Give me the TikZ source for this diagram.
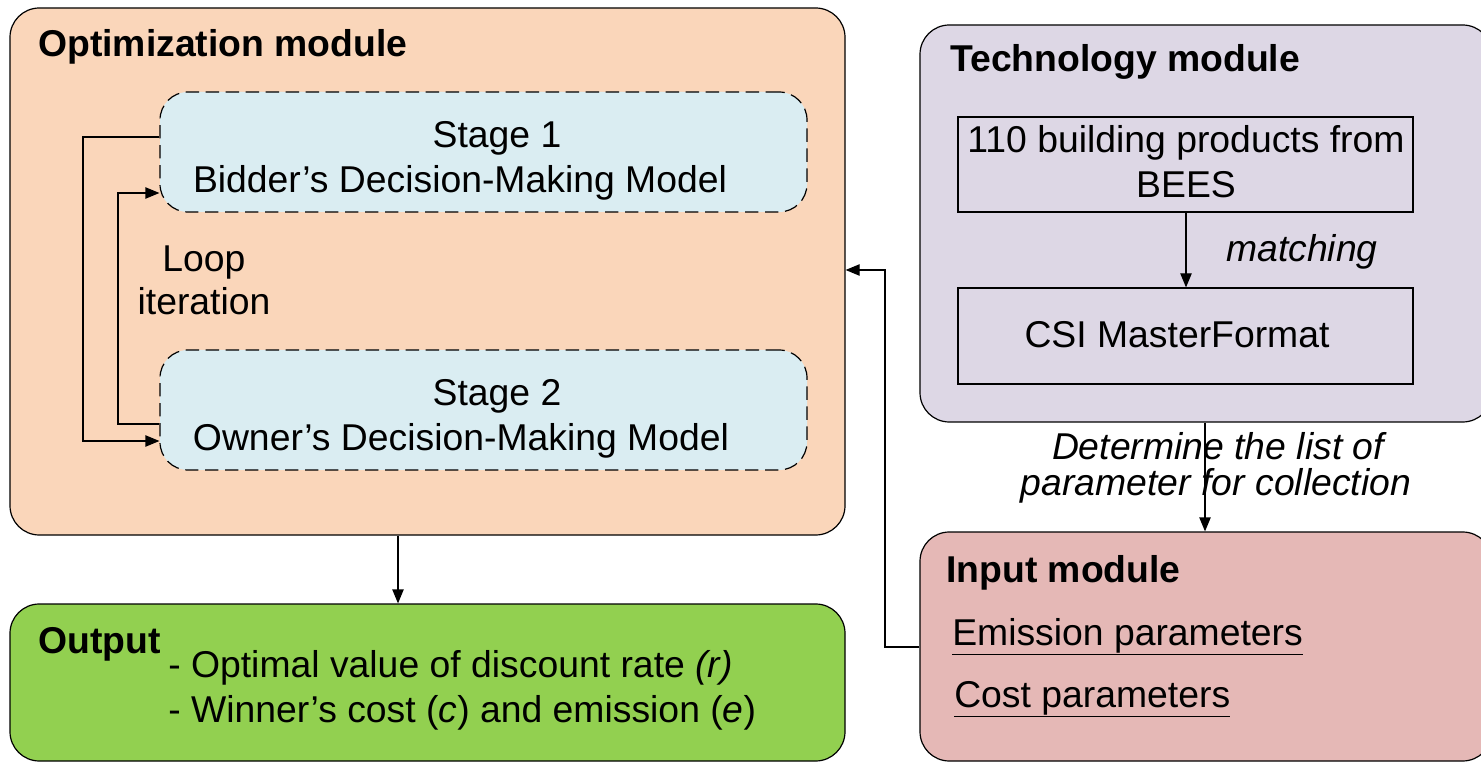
\documentclass[tikz,border=0pt]{standalone}
\usepackage{fontspec}
\setmainfont{Liberation Sans}
\usetikzlibrary{arrows.meta,fit}
\definecolor{optc}{HTML}{FAD6BA}
\definecolor{stagec}{HTML}{DAEDF2}
\definecolor{techc}{HTML}{DDD7E5}
\definecolor{inc}{HTML}{E5B8B6}
\definecolor{outc}{HTML}{92D050}
\begin{document}
\begin{tikzpicture}[x=0.75pt,y=-0.75pt,
  every node/.style={font=\fontsize{28}{34}\selectfont, inner sep=0pt},
  modbox/.style={draw=black, line width=0.9pt, rounded corners=22pt, inner sep=0pt},
  stagebox/.style={draw=black, line width=0.9pt, dash pattern=on 10pt off 5pt, rounded corners=21pt, fill=stagec, inner sep=0pt},
  plainbox/.style={draw=black, line width=0.9pt, inner sep=0pt},
  arr/.style={line width=0.9pt, -{Triangle[length=10.5pt,width=8.5pt]}},
  txt/.style={anchor=base},
  txtw/.style={anchor=base west},
  itx/.style={anchor=base, font=\fontsize{28}{34}\selectfont\itshape},
  ttl/.style={anchor=base west, font=\fontsize{28}{34}\selectfont\bfseries}]
\useasboundingbox (0,0) rectangle (1481,762);
\clip (0,0) rectangle (1481,762);

% modules
\node[modbox, fill=optc, fit={(10,8)(845,535)}] (opt) {};
\node[modbox, fill=techc, fit={(920,25)(1492,422)}] (tech) {};
\node[modbox, fill=inc, fit={(920,532)(1492,761)}] (inp) {};
\node[modbox, fill=outc, fit={(10,604)(845,761)}] (out) {};

% stages
\node[stagebox, fit={(160,92)(807,212)}] (s1) {};
\node[stagebox, fit={(160,350)(807,470)}] (s2) {};

% tech inner boxes
\node[plainbox, fit={(958,117)(1413,212)}] (bees) {};
\node[plainbox, fit={(958,288)(1413,384)}] (csi) {};

% titles
\node[ttl] (optt) at (38,57) {Optimization module};
\node[ttl] (techt) at (950,72) {Technology module};
\node[ttl] (inpt) at (946,582) {Input module};
\node[ttl] (outt) at (38,653) {Output};

% stage texts
\node[txt] (s1a) at (497,148) {Stage 1};
\node[txt] (s1b) at (460,193) {Bidder’s Decision-Making Model};
\node[txt] (s2a) at (497,406) {Stage 2};
\node[txt] (s2b) at (461,451) {Owner’s Decision-Making Model};
\node[txt] (loop1) at (204,272) {Loop};
\node[txt] (loop2) at (204,315) {iteration};

% tech texts
\node[txt] (bees1) at (1186,153) {110 building products from};
\node[txt] (bees2) at (1186,198) {BEES};
\node[txt] (csit) at (1177,348) {CSI MasterFormat};
\node[itx] (match) at (1302,262) {matching};
\node[itx] (det1) at (1218,460) {Determine the list of};
\node[itx] (det2) at (1216,495) {parameter for collection};

% input texts
\node[txtw] (em) at (952,645) {\underline{Emission parameters}};
\node[txtw] (co) at (954,707) {\underline{Cost parameters}};

% output texts
\node[txtw] (o1) at (168,677) {- Optimal value of discount rate \textit{(r)}};
\node[txtw] (o2) at (168,722) {- Winner’s cost (\textit{c}) and emission (\textit{e})};

% connectors
\draw[arr] (bees.south -| 1186,0) -- (csi.north -| 1186,0);
\draw[arr] (tech.south -| 1205,0) -- (inp.north -| 1205,0);
\draw[arr] (opt.south -| 398,0) -- (out.north -| 398,0);
\draw[arr] (inp.west |- 0,647) -| (885,270) -- (opt.east |- 0,270);
\draw[arr] (s1.west |- 0,137) -| (83,441) -- (s2.west |- 0,441);
\draw[arr] (s2.west |- 0,424) -| (118,193) -- (s1.west |- 0,193);
\end{tikzpicture}
\end{document}
